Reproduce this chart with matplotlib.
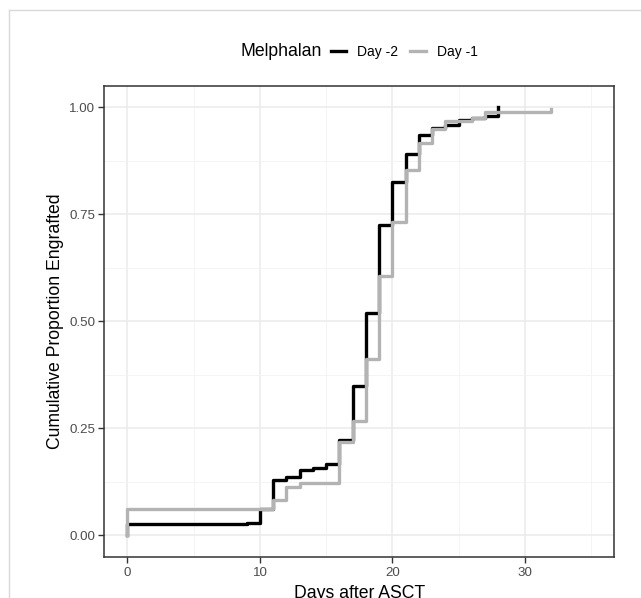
import matplotlib
matplotlib.use("Agg")
import matplotlib.pyplot as plt
from matplotlib.lines import Line2D
from matplotlib.ticker import MultipleLocator

plt.rcParams['font.family'] = ['Liberation Sans', 'DejaVu Sans']

# cumulative proportion engrafted, step function (days after ASCT)
days_d2 = [0, 0, 9, 10, 11, 12, 13, 14, 15, 16, 17, 18, 19, 20, 21, 22, 23, 24, 25, 26, 27, 28]
prop_d2 = [0, 0.026, 0.029, 0.062, 0.130, 0.136, 0.152, 0.158, 0.167, 0.222, 0.349, 0.520,
           0.724, 0.826, 0.892, 0.936, 0.952, 0.960, 0.970, 0.975, 0.981, 1.0]

days_d1 = [0, 0, 11, 12, 13, 16, 17, 18, 19, 20, 21, 22, 23, 24, 26, 27, 32]
prop_d1 = [0, 0.062, 0.082, 0.113, 0.122, 0.218, 0.266, 0.411, 0.607, 0.732, 0.854,
           0.917, 0.950, 0.968, 0.976, 0.989, 0.996]

labels = ["Day -2", "Day -1"]
colors = ["#000000", "#B3B3B3"]

fig = plt.figure(figsize=(6.41, 5.98), dpi=100)
ax = fig.add_axes([0.1627, 0.0691, 0.9583 - 0.1627, 0.8562 - 0.0691])

ax.step(days_d2, prop_d2, where='post', color=colors[0], lw=2.4, zorder=3)
ax.step(days_d1, prop_d1, where='post', color=colors[1], lw=2.4, zorder=4)

ax.set_xlim(-1.75, 36.75)
ax.set_ylim(-0.05, 1.05)
ax.xaxis.set_major_locator(MultipleLocator(10))
ax.xaxis.set_minor_locator(MultipleLocator(5))
ax.yaxis.set_minor_locator(MultipleLocator(0.125))
ax.set_yticks([0, 0.25, 0.5, 0.75, 1.0])
ax.set_yticklabels(["0.00", "0.25", "0.50", "0.75", "1.00"])

ax.grid(which='major', color='#EBEBEB', lw=1.1, zorder=0)
ax.grid(which='minor', color='#F2F2F2', lw=0.6, zorder=0)
ax.set_axisbelow(True)
for s in ax.spines.values():
    s.set_color('#333333')
    s.set_linewidth(1.1)
ax.tick_params(which='major', length=4, width=1, color='#333333',
               labelcolor='#4D4D4D', labelsize=9.6, pad=2.5)
ax.tick_params(axis='x', which='major', pad=3.5)
ax.tick_params(which='minor', length=0)

ax.set_xlabel("Days after ASCT", fontsize=12.7, labelpad=4.5)
ax.set_ylabel("Cumulative Proportion Engrafted", fontsize=12.7, labelpad=4)

# legend on top
fig.text(240 / 641, 1 - 52 / 598, "Melphalan", fontsize=12.7, va='center', ha='left')
handles = [Line2D([], [], color=c, lw=2.4) for c in colors]
fig.legend(handles, labels, loc='center left', bbox_to_anchor=(331 / 641, 1 - 52 / 598),
           ncol=2, frameon=False, fontsize=10, handlelength=1.1, handletextpad=0.8,
           columnspacing=0.85, borderpad=0, borderaxespad=0)

# screenshot frame
fig.add_artist(Line2D([9 / 641, 9 / 641], [0, 1 - 10 / 598], color='#D9D9D9', lw=1))
fig.add_artist(Line2D([9 / 641, 1], [1 - 10 / 598, 1 - 10 / 598], color='#D9D9D9', lw=1))

fig.savefig("out.png", dpi=100)
